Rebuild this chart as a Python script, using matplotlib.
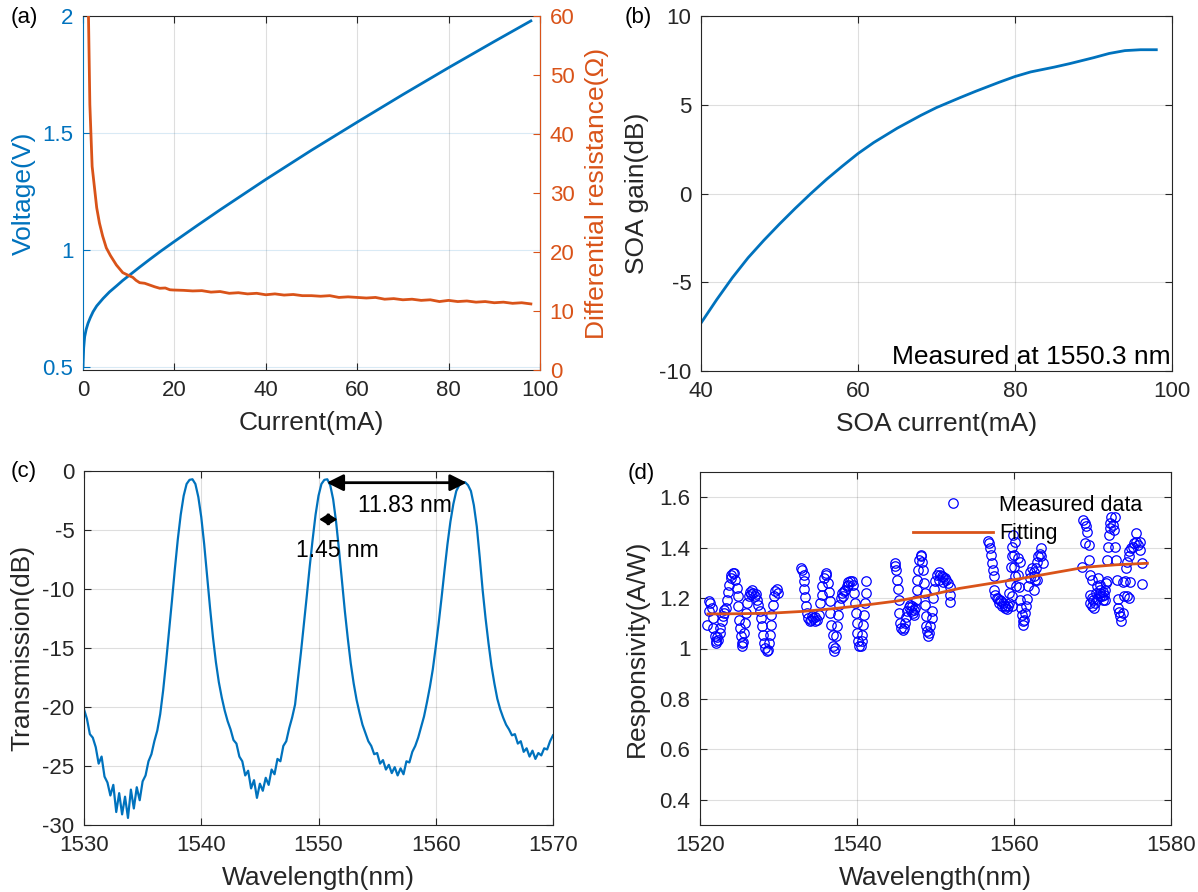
import numpy as np
import matplotlib
matplotlib.use("Agg")
import matplotlib.pyplot as plt
from matplotlib.ticker import FuncFormatter

plt.rcParams['font.family'] = ['Liberation Sans', 'DejaVu Sans']
plt.rcParams['axes.unicode_minus'] = False

BLUE = '#0072BD'
ORANGE = '#D95319'
DARK = '#262626'

# ---- (a) voltage and differential resistance vs current
current_v = [0, 0.15, 0.36, 0.7, 1.1, 1.6, 2.2, 3, 4.4, 5.8, 7.3, 8.7, 10.2,
             12.4, 14.6, 17, 19.8, 25, 30, 40, 50, 60, 70, 80, 90, 98]
voltage = [0.50, 0.58, 0.628, 0.66, 0.686, 0.71, 0.735, 0.76, 0.792, 0.82,
           0.845, 0.869, 0.892, 0.926, 0.959, 0.994, 1.033, 1.104, 1.171,
           1.301, 1.426, 1.546, 1.664, 1.779, 1.891, 1.979]

current_r = [1.0, 1.2, 1.5, 2, 2.5, 3, 3.6, 4.3,
             5.1, 6, 7.3, 8.7, 9.5, 10.9, 11.6, 12.4, 13.5, 14.6, 15.7, 16.8,
             18, 19, 19.7,
             22, 24, 26, 28, 30, 32, 34, 36, 38, 40, 42, 44, 46, 48, 50,
             52, 54, 56, 58, 60, 62, 64, 66, 68, 70, 72, 74, 76, 78, 80,
             82, 84, 86, 88, 90, 92, 94, 96, 98]
resistance = [75, 60, 45, 34.5, 31, 27.5, 24.9, 22.7,
              20.7, 19.4, 17.8, 16.5, 16.2, 15.7, 15.2, 14.8, 14.7, 14.4,
              14.1, 13.85, 13.9, 13.6, 13.56,
              13.5, 13.4, 13.45, 13.2, 13.3, 13.0, 13.1, 12.9, 13.0, 12.75,
              12.9, 12.7, 12.8, 12.6, 12.6, 12.5, 12.6, 12.3, 12.4, 12.3,
              12.2, 12.3, 12.0, 12.1, 11.9, 12.0, 11.8, 11.9, 11.6, 11.8,
              11.6, 11.7, 11.5, 11.6, 11.4, 11.5, 11.3, 11.4, 11.2]

# ---- (b) SOA gain
soa_current = [40, 42, 44, 46, 48, 50, 52, 54, 56, 58, 60, 62, 65,
               68, 70, 73, 75, 78, 80, 82, 85, 87, 90, 92, 94, 96, 98]
soa_gain = [-7.3, -5.98, -4.74, -3.62, -2.64, -1.72, -0.84, 0.0, 0.8, 1.54,
            2.25, 2.87, 3.68, 4.4, 4.84, 5.4, 5.76, 6.27, 6.59,
            6.85, 7.12, 7.32, 7.65, 7.89, 8.05, 8.1, 8.1]

# ---- (c) transmission spectrum, 1530..1570 nm every 0.25 nm
transmission = [
    -20.2, -21.0, -22.3, -22.6, -23.4, -24.8, -24.2, -25.9,
    -26.4, -27.5, -26.6, -28.9, -27.3, -29.1, -27.6, -29.4,
    -27.0, -28.6, -26.8, -27.9, -26.3, -25.8, -24.6, -24.0,
    -22.9, -22.0, -20.6, -18.6, -16.2, -13.6, -11.0, -8.3,
    -5.8, -3.7, -2.1, -1.1, -0.75, -0.7, -1.1, -2.2,
    -3.9, -6.2, -8.9, -11.6, -14.1, -16.2, -17.9, -19.2,
    -20.3, -21.2, -21.9, -22.8, -23.1, -24.2, -24.6, -25.8,
    -25.4, -26.9, -26.2, -27.7, -26.5, -27.1, -26.0, -26.6,
    -25.3, -25.7, -24.4, -24.6, -23.3, -22.9, -21.8, -20.9,
    -19.8, -17.6, -15.4, -13.0, -10.6, -8.1, -5.8, -3.7,
    -2.1, -1.1, -0.75, -0.7, -1.2, -2.4, -4.3, -6.7,
    -9.3, -11.9, -14.2, -16.3, -18.0, -19.4, -20.5, -21.5,
    -22.2, -22.9, -23.3, -24.0, -23.9, -24.8, -24.5, -25.3,
    -24.9, -25.6, -25.1, -25.8, -25.2, -25.7, -24.6, -24.7,
    -23.8, -23.3, -22.6, -21.7, -20.8, -19.6, -18.3, -16.8,
    -14.9, -12.9, -10.7, -8.4, -6.2, -4.3, -2.8, -1.7,
    -1.2, -1.0, -0.95, -1.2, -1.7, -2.9, -4.7, -7.3,
    -10.1, -12.5, -14.6, -16.5, -18.0, -19.3, -20.2, -20.9,
    -21.5, -21.9, -22.4, -22.3, -23.1, -22.9, -23.8, -23.5,
    -24.2, -23.7, -24.4, -23.9, -24.1, -23.5, -23.6, -22.9,
    -22.4]
wavelength_c = np.linspace(1530, 1570, len(transmission))

# ---- (d) responsivity, measured points (wavelength, A/W) per group
group1 = [(1520.9, 1.094), (1521.1, 1.147), (1521.2, 1.187), (1521.3, 1.180),
          (1521.5, 1.160), (1521.6, 1.120), (1521.7, 1.080), (1521.9, 1.048),
          (1522.0, 1.028), (1522.1, 1.022), (1522.3, 1.035), (1522.5, 1.060),
          (1522.55, 1.080), (1522.8, 1.108), (1522.9, 1.130), (1523.1, 1.154),
          (1523.3, 1.160), (1523.5, 1.193), (1523.6, 1.226), (1523.7, 1.250),
          (1523.9, 1.280), (1524.2, 1.300), (1524.3, 1.298), (1524.5, 1.270),
          (1524.7, 1.240), (1524.8, 1.207), (1524.9, 1.167), (1525.0, 1.114),
          (1525.1, 1.080), (1525.2, 1.050), (1525.3, 1.022), (1525.4, 1.009),
          (1525.5, 1.025), (1525.6, 1.060), (1525.7, 1.100), (1525.9, 1.140),
          (1526.0, 1.180), (1526.2, 1.207), (1526.4, 1.226), (1526.6, 1.233),
          (1526.8, 1.222), (1527.0, 1.207), (1527.2, 1.193), (1527.4, 1.174),
          (1527.6, 1.147), (1527.8, 1.120), (1527.9, 1.088), (1528.0, 1.055),
          (1528.2, 1.022), (1528.3, 1.002), (1528.5, 0.989), (1528.7, 0.996),
          (1528.8, 1.022), (1528.9, 1.055), (1529.0, 1.094), (1529.1, 1.134),
          (1529.3, 1.174), (1529.4, 1.207), (1529.6, 1.230), (1529.8, 1.236),
          (1529.9, 1.220), (1522.2, 1.045), (1523.0, 1.140), (1524.0, 1.290),
          (1526.5, 1.215), (1527.1, 1.215)]
group2 = [(1532.9, 1.319), (1533.05, 1.312), (1533.2, 1.292), (1533.25, 1.266),
          (1533.3, 1.236), (1533.4, 1.203), (1533.5, 1.167), (1533.6, 1.140),
          (1533.8, 1.120), (1534.0, 1.108), (1534.2, 1.114), (1534.4, 1.120),
          (1534.6, 1.108), (1534.9, 1.114), (1535.1, 1.134), (1535.3, 1.180),
          (1535.5, 1.213), (1535.6, 1.246), (1535.8, 1.280), (1536.0, 1.300),
          (1536.1, 1.290), (1536.3, 1.260), (1536.4, 1.226), (1536.55, 1.187),
          (1536.6, 1.140), (1536.7, 1.094), (1536.9, 1.055), (1537.0, 1.009),
          (1537.1, 0.989), (1537.2, 1.002), (1537.3, 1.048), (1537.5, 1.088),
          (1537.6, 1.134), (1537.7, 1.174), (1537.9, 1.200), (1538.1, 1.220),
          (1538.3, 1.230), (1538.5, 1.233), (1538.7, 1.246), (1538.9, 1.262),
          (1539.1, 1.269), (1539.3, 1.266), (1539.5, 1.253), (1539.65, 1.220),
          (1539.75, 1.180), (1539.85, 1.140), (1539.95, 1.100), (1540.05, 1.060),
          (1540.15, 1.030), (1540.3, 1.009), (1540.45, 1.009), (1540.6, 1.028),
          (1540.7, 1.055), (1540.8, 1.094), (1540.9, 1.134), (1541.0, 1.180),
          (1541.1, 1.220), (1541.2, 1.269), (1534.3, 1.130), (1534.7, 1.125),
          (1538.2, 1.210), (1538.8, 1.250)]
group3 = [(1544.8, 1.341), (1544.9, 1.328), (1545.0, 1.312), (1545.1, 1.272),
          (1545.2, 1.236), (1545.3, 1.193), (1545.4, 1.140), (1545.5, 1.100),
          (1545.6, 1.080), (1545.8, 1.075), (1546.0, 1.080), (1546.1, 1.100),
          (1546.25, 1.125), (1546.4, 1.147), (1546.6, 1.164), (1546.8, 1.174),
          (1547.0, 1.167), (1547.2, 1.154), (1547.3, 1.134), (1547.4, 1.160),
          (1547.5, 1.193), (1547.6, 1.233), (1547.7, 1.272), (1547.8, 1.312),
          (1547.95, 1.352), (1548.1, 1.372), (1548.2, 1.365), (1548.3, 1.345),
          (1548.45, 1.312), (1548.5, 1.259), (1548.6, 1.220), (1548.7, 1.174),
          (1548.75, 1.127), (1548.8, 1.090), (1548.96, 1.068), (1549.1, 1.048),
          (1549.2, 1.062), (1549.35, 1.088), (1549.5, 1.120), (1549.6, 1.147),
          (1549.7, 1.200), (1549.85, 1.236), (1549.98, 1.266), (1550.15, 1.292),
          (1550.4, 1.305), (1550.6, 1.292), (1550.8, 1.286), (1551.0, 1.283),
          (1551.2, 1.279), (1551.4, 1.272), (1551.6, 1.259), (1551.8, 1.243),
          (1551.85, 1.213), (1551.85, 1.183), (1546.9, 1.150), (1547.1, 1.140),
          (1550.5, 1.270), (1550.9, 1.265)]
group4 = [(1556.7, 1.428), (1556.85, 1.420), (1557.0, 1.397), (1557.1, 1.370),
          (1557.2, 1.341), (1557.3, 1.312), (1557.4, 1.286), (1557.5, 1.233),
          (1557.6, 1.213), (1557.8, 1.200), (1558.0, 1.196), (1558.2, 1.193),
          (1558.4, 1.187), (1558.65, 1.180), (1558.85, 1.170), (1559.05, 1.156),
          (1559.2, 1.167), (1559.3, 1.180), (1559.4, 1.220), (1559.5, 1.259),
          (1559.6, 1.325), (1559.7, 1.365), (1559.8, 1.404), (1559.9, 1.450),
          (1560.1, 1.424), (1560.0, 1.370), (1560.05, 1.325), (1560.1, 1.286),
          (1559.8, 1.207), (1559.7, 1.167), (1560.3, 1.246), (1560.55, 1.292),
          (1560.7, 1.243), (1560.8, 1.193), (1560.85, 1.160), (1561.0, 1.134),
          (1561.1, 1.108), (1561.2, 1.094), (1561.3, 1.114), (1561.4, 1.140),
          (1561.5, 1.167), (1561.6, 1.196), (1561.8, 1.246), (1562.0, 1.279),
          (1562.1, 1.305), (1562.25, 1.319), (1562.5, 1.305), (1562.55, 1.286),
          (1562.7, 1.272), (1562.8, 1.319), (1562.9, 1.345), (1563.1, 1.365),
          (1563.3, 1.375), (1563.4, 1.397), (1563.5, 1.365), (1563.7, 1.338),
          (1560.8, 1.345), (1560.55, 1.358), (1562.9, 1.272), (1562.5, 1.233),
          (1558.1, 1.180), (1558.5, 1.170), (1558.9, 1.160)]
group5 = [(1568.6, 1.325), (1568.8, 1.510), (1569.0, 1.497), (1569.05, 1.420),
          (1569.2, 1.484), (1569.3, 1.464), (1569.5, 1.410), (1569.5, 1.352),
          (1569.7, 1.292), (1569.9, 1.272), (1569.7, 1.213), (1569.9, 1.200),
          (1569.7, 1.180), (1569.9, 1.167), (1570.1, 1.193), (1570.2, 1.160),
          (1570.3, 1.180), (1570.45, 1.220), (1570.6, 1.246), (1570.6, 1.196),
          (1570.75, 1.279), (1570.9, 1.253), (1570.9, 1.207), (1571.0, 1.233),
          (1571.0, 1.220), (1571.2, 1.207), (1571.3, 1.193), (1571.3, 1.226),
          (1571.5, 1.213), (1571.6, 1.233), (1571.6, 1.193), (1571.7, 1.259),
          (1571.8, 1.266), (1571.9, 1.352), (1572.0, 1.404), (1572.15, 1.450),
          (1572.2, 1.477), (1572.2, 1.497), (1572.35, 1.523), (1572.6, 1.490),
          (1572.75, 1.468), (1572.9, 1.523), (1572.9, 1.401), (1573.0, 1.352),
          (1573.1, 1.272), (1573.2, 1.196), (1573.3, 1.160), (1573.4, 1.143),
          (1573.5, 1.127), (1573.6, 1.108), (1573.9, 1.140), (1574.0, 1.209),
          (1574.1, 1.266), (1574.3, 1.319), (1574.4, 1.345), (1574.6, 1.365),
          (1574.7, 1.385), (1574.9, 1.398), (1575.1, 1.404), (1575.3, 1.418),
          (1575.5, 1.424), (1575.6, 1.457), (1575.8, 1.411), (1576.05, 1.391),
          (1576.1, 1.424), (1576.3, 1.338), (1576.35, 1.257), (1573.9, 1.265),
          (1574.8, 1.265), (1574.6, 1.200), (1574.4, 1.210)]
fit_wl = [1521, 1525, 1529, 1533, 1537, 1541, 1545, 1549, 1553, 1557, 1561,
          1565, 1569, 1573, 1577]
fit_resp = [1.137, 1.138, 1.140, 1.147, 1.158, 1.172, 1.188, 1.210, 1.238,
            1.258, 1.278, 1.300, 1.322, 1.332, 1.338]

meas = group1 + group2 + group3 + group4 + group5
meas_wl = [p[0] for p in meas]
meas_resp = [p[1] for p in meas]

fmt = FuncFormatter(lambda v, pos: f'{v:g}')
TICK_FS = 16
LABEL_FS = 19


def style(ax, grid=True):
    for s in ax.spines.values():
        s.set_color(DARK)
        s.set_linewidth(0.8)
    ax.tick_params(direction='in', length=5, width=0.8, top=True, right=True,
                   labelsize=TICK_FS, colors=DARK, pad=7)
    if grid:
        ax.grid(True, color=DARK, alpha=0.15, lw=0.8)
    ax.set_axisbelow(True)
    ax.xaxis.set_major_formatter(fmt)
    ax.yaxis.set_major_formatter(fmt)


fig = plt.figure(figsize=(11.98, 8.92), dpi=100)
W, H = 1198, 892


def rect(l, t, r, b):
    return [l / W, 1 - b / H, (r - l) / W, (b - t) / H]


# (a)
ax_a = fig.add_axes(rect(83, 16, 540, 370))
style(ax_a, grid=False)
ax_a.tick_params(right=False)
ax_a.grid(True, axis='x', color=DARK, alpha=0.15, lw=0.8)
ax_a.grid(True, axis='y', color=BLUE, alpha=0.15, lw=0.8)
ax_a.plot(current_v, voltage, color=BLUE, lw=2)
ax_a.set_xlim(0, 100)
ax_a.set_ylim(0.486, 2.0)
ax_a.set_xticks([0, 20, 40, 60, 80, 100])
ax_a.set_yticks([0.5, 1, 1.5, 2])
ax_a.tick_params(axis='y', colors=BLUE)
ax_a.spines['left'].set_color(BLUE)
ax_a.set_xlabel('Current(mA)', fontsize=LABEL_FS, color=DARK)
ax_a.set_ylabel('Voltage(V)', fontsize=LABEL_FS, color=BLUE)
ax_a.xaxis.set_label_coords(0.5, -0.115)
ax_a.yaxis.set_label_coords(-0.103, 0.5)

ax_r = ax_a.twinx()
ax_r.plot(current_r, resistance, color=ORANGE, lw=2)
ax_r.set_ylim(0, 60)
ax_r.set_yticks([0, 10, 20, 30, 40, 50, 60])
ax_r.yaxis.set_major_formatter(fmt)
ax_r.tick_params(axis='y', direction='in', length=5, width=0.8,
                 labelsize=TICK_FS, colors=ORANGE, pad=7)
for s in ['top', 'bottom', 'left']:
    ax_r.spines[s].set_visible(False)
ax_r.spines['right'].set_color(ORANGE)
ax_r.spines['right'].set_linewidth(0.8)
ax_r.set_ylabel('Differential resistance(Ω)', fontsize=LABEL_FS, color=ORANGE)
ax_r.yaxis.set_label_coords(1.0985, 0.5)

# (b)
ax_b = fig.add_axes(rect(701, 16, 1172, 371))
style(ax_b)
ax_b.plot(soa_current, soa_gain, color=BLUE, lw=2)
ax_b.set_xlim(40, 100)
ax_b.set_ylim(-10, 10)
ax_b.set_xticks([40, 60, 80, 100])
ax_b.set_yticks([-10, -5, 0, 5, 10])
ax_b.set_xlabel('SOA current(mA)', fontsize=LABEL_FS, color=DARK)
ax_b.set_ylabel('SOA gain(dB)', fontsize=LABEL_FS, color=DARK)
ax_b.xaxis.set_label_coords(0.5, -0.115)
ax_b.yaxis.set_label_coords(-0.110, 0.5)
ax_b.text(0.997, 0.04, 'Measured at 1550.3 nm', transform=ax_b.transAxes,
          ha='right', va='center', fontsize=LABEL_FS, color='k')

# (c)
ax_c = fig.add_axes(rect(84, 471, 553, 825))
style(ax_c)
ax_c.plot(wavelength_c, transmission, color=BLUE, lw=1.6)
ax_c.set_xlim(1530, 1570)
ax_c.set_ylim(-30, 0)
ax_c.set_xticks([1530, 1540, 1550, 1560, 1570])
ax_c.set_yticks([-30, -25, -20, -15, -10, -5, 0])
ax_c.set_xlabel('Wavelength(nm)', fontsize=LABEL_FS, color=DARK)
ax_c.set_ylabel('Transmission(dB)', fontsize=LABEL_FS, color=DARK)
ax_c.xaxis.set_label_coords(0.5, -0.115)
ax_c.yaxis.set_label_coords(-0.106, 0.5)
ax_c.annotate('', xy=(1562.64, -0.99), xytext=(1550.7, -0.99),
              arrowprops=dict(arrowstyle='<|-|>,head_length=1.0,head_width=0.5',
                              color='k', lw=2, shrinkA=0, shrinkB=0))
ax_c.annotate('', xy=(1551.6, -4.1), xytext=(1550.07, -4.1),
              arrowprops=dict(arrowstyle='<|-|>,head_length=0.55,head_width=0.35',
                              color='k', lw=1.5, shrinkA=0, shrinkB=0))
ax_c.text(1557.4, -2.9, '11.83 nm', ha='center', va='center', fontsize=16.5,
          color='k')
ax_c.text(1551.6, -6.7, '1.45 nm', ha='center', va='center', fontsize=16.5,
          color='k')

# (d)
ax_d = fig.add_axes(rect(700, 472, 1171, 825))
style(ax_d)
ax_d.plot(meas_wl, meas_resp, 'o', mfc='none', mec='b', ms=6.8, mew=0.9,
          ls='none', label='Measured data')
ax_d.plot(fit_wl, fit_resp, color=ORANGE, lw=2, label='Fitting')
ax_d.set_xlim(1520, 1580)
ax_d.set_ylim(0.3, 1.7)
ax_d.set_xticks([1520, 1540, 1560, 1580])
ax_d.set_yticks([0.4, 0.6, 0.8, 1.0, 1.2, 1.4, 1.6])
ax_d.set_xlabel('Wavelength(nm)', fontsize=LABEL_FS, color=DARK)
ax_d.set_ylabel('Responsivity(A/W)', fontsize=LABEL_FS, color=DARK)
ax_d.xaxis.set_label_coords(0.5, -0.115)
ax_d.yaxis.set_label_coords(-0.108, 0.5)
ax_d.legend(loc='upper left', bbox_to_anchor=(0.452, 0.935), frameon=False,
            fontsize=15.5, handlelength=3.7, handletextpad=0.3,
            labelspacing=0.35, borderpad=0, borderaxespad=0, numpoints=1)

# panel letters
for lab, x, y in [('(a)', 24, 17), ('(b)', 638, 17), ('(c)', 24, 471),
                  ('(d)', 641, 473)]:
    fig.text(x / W, 1 - y / H, lab, ha='center', va='center', fontsize=16,
             color='k')

fig.savefig('out.png', dpi=100)
